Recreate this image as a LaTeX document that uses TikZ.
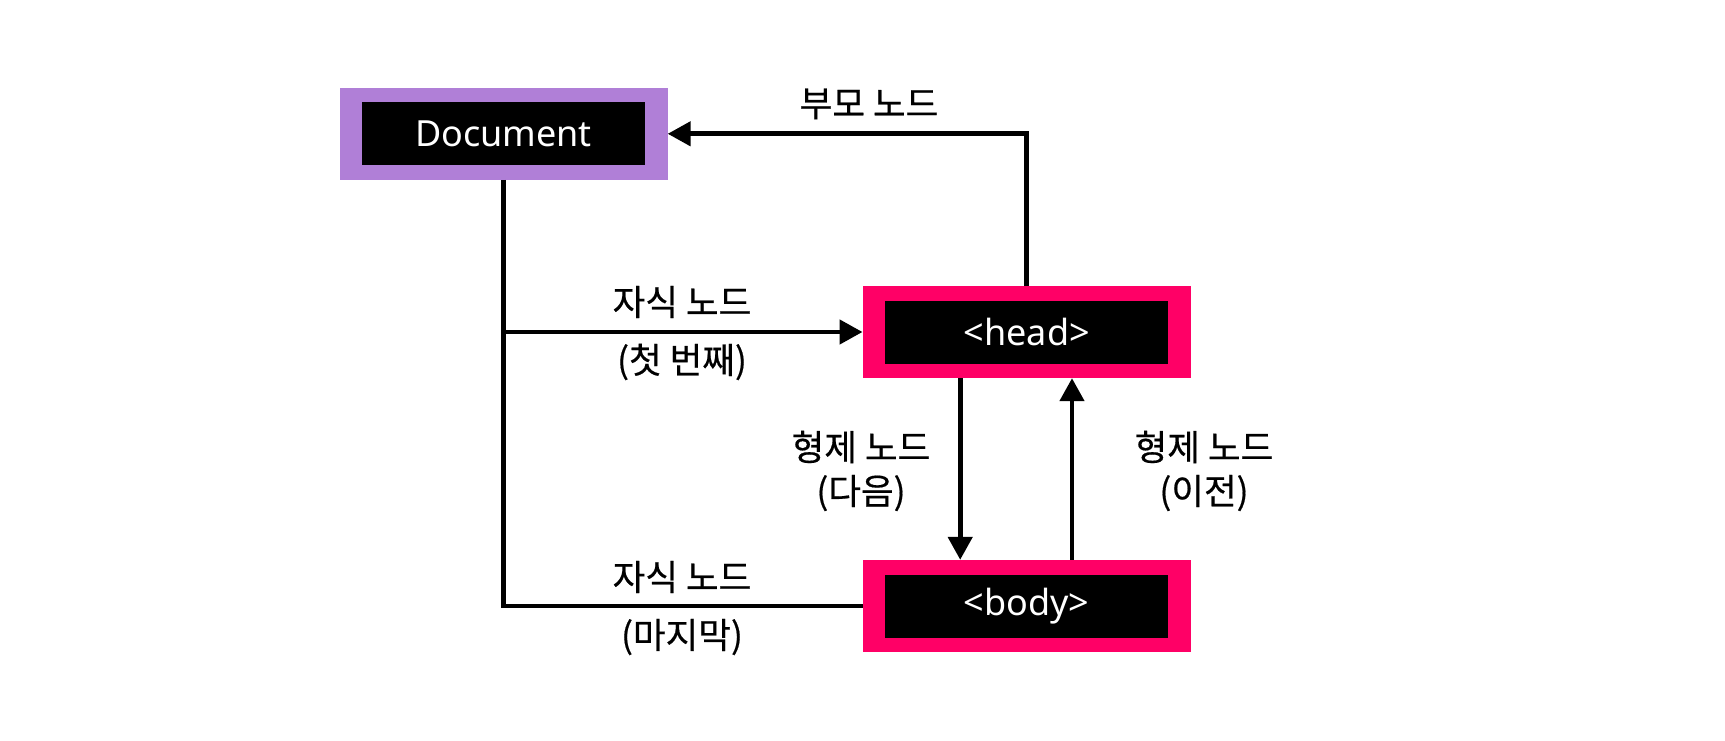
\documentclass[tikz,border=0pt]{standalone}
\usepackage{fontspec}
\setmainfont{Noto Sans}
\newfontfamily\kr[FakeBold=0.5]{Noto Sans CJK KR}
\usetikzlibrary{arrows.meta}
\definecolor{docpurple}{HTML}{B07FD7}
\definecolor{hotpink}{HTML}{FF0066}
\begin{document}
\begin{tikzpicture}[x=1pt,y=-1pt,
  outerbox/.style={rectangle,inner sep=0pt,minimum width=328pt,minimum height=92pt,fill=#1},
  innerbox/.style={rectangle,inner sep=0pt,minimum width=283pt,minimum height=63pt,fill=black,text=white,font=\fontsize{36}{42}\selectfont},
  lbl/.style={font=\kr\fontsize{35.5}{40}\selectfont,inner sep=0pt,align=center},
  conn/.style={line width=4.7pt},
  arr/.style={conn,-{Triangle[width=24pt,length=23pt]}}]
\useasboundingbox (0,0) rectangle (1725,741);
% boxes
\node[outerbox=docpurple] (doc) at (503.5,133.8) {};
\node[innerbox] (doci) at (doc.center) {Document};
\node[outerbox=hotpink] (head) at (1026.7,332) {};
\node[innerbox] (headi) at (head.center) {<head>};
\node[outerbox=hotpink] (body) at (1026.7,606) {};
\node[innerbox] (bodyi) at (body.center) {<body>};
% connectors
\draw[arr] (head.north) |- (doc.east);
\draw[conn] (doc.south) |- (body.west);
\coordinate (br) at (doc.south |- head.west);
\draw[arr] (br) -- (head.west);
\draw[arr] ([xshift=-66.5pt]head.south) -- ([xshift=-66.5pt]body.north);
\draw[arr] ([xshift=45.3pt]body.north) -- ([xshift=45.3pt]head.south);
% labels
\node[lbl] (lp) at (869,104) {부모 노드};
\node[lbl] (lc1) at (682,302) {자식 노드};
\node[lbl] (lc1b) at (682,362) {(첫 번째)};
\node[lbl] (lc2) at (682,577) {자식 노드};
\node[lbl] (lc2b) at (682,637) {(마지막)};
\node[lbl] (ln) at (861,447) {형제 노드};
\node[lbl] (lnb) at (861,493) {(다음)};
\node[lbl] (lv) at (1204,447) {형제 노드};
\node[lbl] (lvb) at (1204,493) {(이전)};
\end{tikzpicture}
\end{document}
